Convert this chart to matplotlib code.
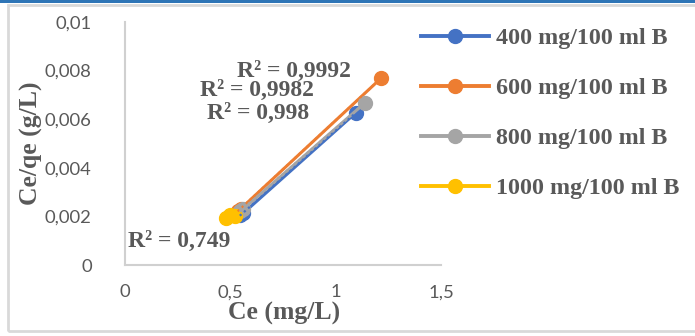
import matplotlib
matplotlib.use("Agg")
import matplotlib.pyplot as plt
from matplotlib.patches import Rectangle
from matplotlib.lines import Line2D
import numpy as np

# data
series_names = ["400 mg/100 ml B", "600 mg/100 ml B", "800 mg/100 ml B", "1000 mg/100 ml B"]
colors = ["#4472C4", "#ED7D31", "#A5A5A5", "#FFC000"]
ce_400 = [0.545, 0.56, 1.095]
q_400 = [0.00205, 0.00212, 0.00626]
ce_600 = [0.535, 0.55, 1.217]
q_600 = [0.00222, 0.00232, 0.00770]
ce_800 = [0.545, 0.56, 1.14]
q_800 = [0.00222, 0.00229, 0.00668]
ce_1000 = [0.48, 0.50, 0.52]
q_1000 = [0.00194, 0.00205, 0.00203]
r2_labels = ["R² = 0,998", "R² = 0,9992", "R² = 0,9982", "R² = 0,749"]
xticks = [0, 0.5, 1, 1.5]
xtick_labels = ["0", "0,5", "1", "1,5"]
yticks = [0, 0.002, 0.004, 0.006, 0.008, 0.01]
ytick_labels = ["0", "0,002", "0,004", "0,006", "0,008", "0,01"]

xs = [ce_400, ce_600, ce_800, ce_1000]
ys = [q_400, q_600, q_800, q_1000]

W, H = 695, 336
# label positions in figure pixels (left edge, vertical centre)
r2_pix = [(207, 113), (237, 71), (200, 90), (128, 241)]

fig = plt.figure(figsize=(W / 100, H / 100), dpi=100)
fig.patch.set_facecolor("white")

# outer frame and top band
fig.add_artist(Rectangle((8 / W, 5 / H), (W + 10) / W, (331 - 5) / H, transform=fig.transFigure,
                         fill=False, edgecolor="#D9D9D9", linewidth=2))
fig.add_artist(Rectangle((0, 1 - 3 / H), 1, 3 / H, transform=fig.transFigure,
                         facecolor="#2E75B6", edgecolor="none"))

ax = fig.add_axes([125 / W, 1 - 265 / H, (441 - 125) / W, (265 - 22) / H])
ax.set_xlim(0, 1.5)
ax.set_ylim(0, 0.01)

tick_font = dict(family="Lato", size=13.3, color="#595959")
serif_bold = dict(family="Liberation Serif", weight="bold", color="#595959")

handles = []
for x, y, c, name in zip(xs, ys, colors, series_names):
    ax.plot(x, y, color=c, lw=2.2, marker="o", ms=10, zorder=3)
    coef = np.polyfit(x, y, 1)
    xx = np.array([min(x), max(x)])
    ax.plot(xx, np.polyval(coef, xx), color=c, lw=1.6, ls=(0, (1, 1.5)), zorder=4)
    handles.append(Line2D([0], [0], color=c, lw=2.8, marker="o", ms=10, label=name))

for (px, py), lab in zip(r2_pix, r2_labels):
    fig.text(px / W, 1 - py / H, lab, fontsize=17, ha="left", va="center", zorder=6, **serif_bold)

ax.set_xticks(xticks)
ax.set_xticklabels(xtick_labels, **tick_font)
ax.set_yticks(yticks)
ax.set_yticklabels(ytick_labels, **tick_font)
ax.tick_params(axis="both", length=0)
ax.tick_params(axis="x", pad=14)
ax.tick_params(axis="y", pad=24)
for s in ["top", "right"]:
    ax.spines[s].set_visible(False)
for s in ["left", "bottom"]:
    ax.spines[s].set_color("#D0D0D0")
    ax.spines[s].set_linewidth(1.5)

fig.text(284 / W, 1 - 313 / H, "Ce (mg/L)", fontsize=18.5, ha="center", va="center", **serif_bold)
fig.text(31 / W, 1 - 143 / H, "Ce/qe (g/L)", fontsize=18.5, ha="center", va="center",
         rotation=90, **serif_bold)

leg = fig.legend(handles=handles, loc="upper left", bbox_to_anchor=(399 / W, 1 - 6 / H),
                 frameon=False, handlelength=2.84, handletextpad=0.3, labelspacing=1.17,
                 prop=dict(family="Liberation Serif", weight="bold", size=17.3))
for t in leg.get_texts():
    t.set_color("#595959")

fig.savefig("out.png", dpi=100, facecolor="white")
